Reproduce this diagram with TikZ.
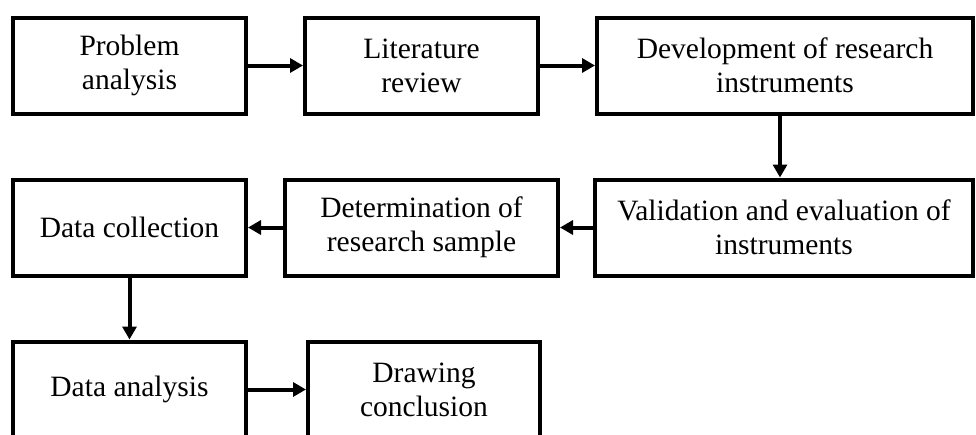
\documentclass[tikz,border=0pt]{standalone}
\usepackage{fontspec}
\setmainfont{Liberation Serif}
\usetikzlibrary{arrows.meta}
\begin{document}
\begin{tikzpicture}[x=1pt,y=-1pt,
  box/.style={draw=black, line width=4pt, inner sep=0pt, align=center,
    minimum height=96pt, font=\fontsize{29.5}{34}\selectfont},
  arr/.style={line width=4pt, -{Triangle[length=13pt,width=14pt]}}]
\useasboundingbox (0,0) rectangle (976,434);
\clip (0,0) rectangle (976,434);
\node[box, minimum width=233pt] (A) at (129.5,65.5) {Problem\\analysis};
\node[box, minimum width=233pt] (B) at (421.5,65.5) {Literature\\review};
\node[box, minimum width=376pt] (C) at (785,65.5) {Development of research\\instruments};
\node[box, minimum width=233pt] (D) at (129.5,227.5) {Data collection};
\node[box, minimum width=273pt] (E) at (421.5,227.5) {Determination of\\research sample};
\node[box, minimum width=378pt] (F) at (784,227.5) {Validation and evaluation of\\instruments};
\node[box, minimum width=233pt] (G) at (129.5,389.5) {Data analysis};
\node[box, minimum width=232pt] (H) at (424,389.5) {Drawing\\conclusion};
\draw[arr] (A.east) -- (B.west);
\draw[arr] (B.east) -- (C.west);
\draw[arr] ([xshift=-5pt]C.south) -- ([xshift=-5pt]C.south |- F.north);
\draw[arr] (F.west) -- (E.east);
\draw[arr] (E.west) -- (D.east);
\draw[arr] (D.south) -- (D.south |- G.north);
\draw[arr] (G.east) -- (H.west);
\end{tikzpicture}
\end{document}
